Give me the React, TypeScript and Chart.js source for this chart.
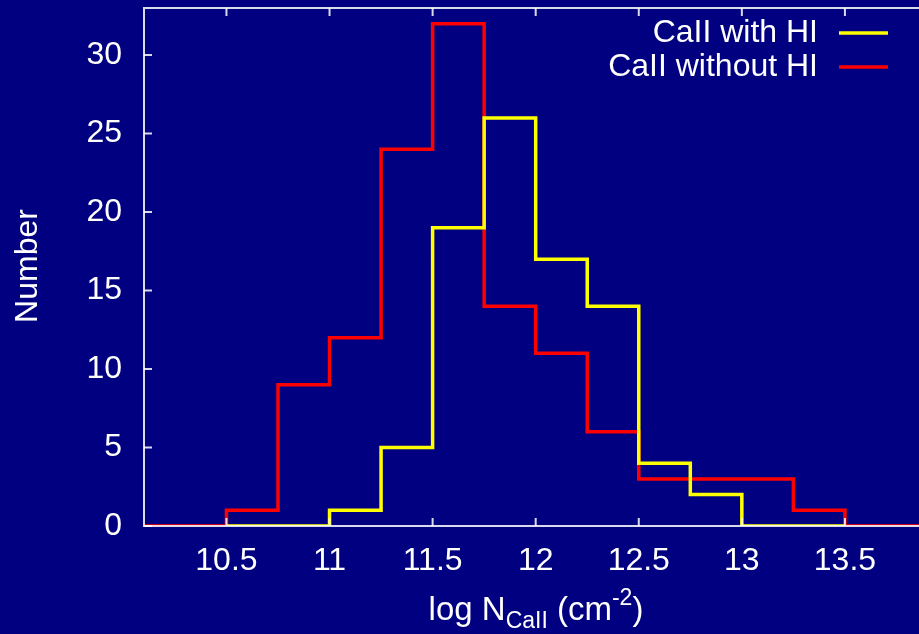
import React, { useEffect, useRef } from "react";
import { Chart, registerables } from "chart.js";

Chart.register(...registerables);

// ---- data ----
const binEdges = [10.5, 10.75, 11, 11.25, 11.5, 11.75, 12, 12.25, 12.5, 12.75, 13, 13.25, 13.5];
const countsWithHI = [0, 0, 1, 5, 19, 26, 17, 14, 4, 2, 0, 0];
const countsWithoutHI = [1, 9, 12, 24, 32, 14, 11, 6, 3, 3, 3, 1];
const xTickValues = [10.5, 11, 11.5, 12, 12.5, 13, 13.5];
const yTickValues = [0, 5, 10, 15, 20, 25, 30];
const seriesLabels = ["CaII with HI", "CaII without HI"];
const seriesColors = ["#ffff00", "#ff0000"];

const X_MIN = 10.1;
const X_MAX = 14;
const Y_MIN = 0;
const Y_MAX = 33;

const BG = "#000080";
const FONT = "'Liberation Sans', Arial, sans-serif";
const FS = 32;

function stepPoints(counts: number[], extendMin?: number, extendMax?: number) {
  const pts: { x: number; y: number }[] = [];
  if (extendMin !== undefined) pts.push({ x: extendMin, y: 0 });
  counts.forEach((c, i) => pts.push({ x: binEdges[i], y: c }));
  pts.push({ x: binEdges[binEdges.length - 1], y: 0 });
  if (extendMax !== undefined) pts.push({ x: extendMax, y: 0 });
  return pts;
}

const framePlugin = {
  id: "frame",
  beforeDraw(chart: any) {
    const ctx = chart.ctx;
    ctx.save();
    ctx.fillStyle = BG;
    ctx.fillRect(0, 0, chart.width, chart.height);
    ctx.restore();
  },
  afterDatasetsDraw(chart: any) {
    const ctx = chart.ctx;
    const { left, right, top, bottom } = chart.chartArea;
    const xs = chart.scales.x;
    const ys = chart.scales.y;
    ctx.save();
    ctx.strokeStyle = "rgba(255,255,255,0.85)";
    ctx.lineWidth = 2;
    ctx.beginPath();
    ctx.moveTo(left, top);
    ctx.lineTo(right, top);
    ctx.lineTo(right, bottom);
    ctx.lineTo(left, bottom);
    ctx.closePath();
    ctx.stroke();
    const tl = 8;
    ctx.beginPath();
    xTickValues.forEach((v) => {
      const px = xs.getPixelForValue(v);
      ctx.moveTo(px, bottom);
      ctx.lineTo(px, bottom - tl);
      ctx.moveTo(px, top);
      ctx.lineTo(px, top + tl);
    });
    yTickValues.forEach((v) => {
      const py = ys.getPixelForValue(v);
      ctx.moveTo(left, py);
      ctx.lineTo(left + tl, py);
      ctx.moveTo(right, py);
      ctx.lineTo(right - tl, py);
    });
    ctx.stroke();

    // legend
    ctx.fillStyle = "#ffffff";
    ctx.font = `${FS}px ${FONT}`;
    ctx.textAlign = "right";
    ctx.textBaseline = "middle";
    const legX = 818;
    const legY = [33, 67];
    seriesLabels.forEach((lab, i) => {
      ctx.fillStyle = "#ffffff";
      ctx.fillText(lab, legX, legY[i]);
      ctx.strokeStyle = seriesColors[i];
      ctx.lineWidth = 3.5;
      ctx.beginPath();
      ctx.moveTo(839, legY[i]);
      ctx.lineTo(888, legY[i]);
      ctx.stroke();
    });

    // y title
    ctx.save();
    ctx.translate(28, 266);
    ctx.rotate(-Math.PI / 2);
    ctx.textAlign = "center";
    ctx.textBaseline = "middle";
    ctx.fillStyle = "#ffffff";
    ctx.font = `${FS}px ${FONT}`;
    ctx.fillText("Number", 0, 0);
    ctx.restore();

    // x title with sub/superscripts
    const parts = [
      { t: "log N", size: 33, dy: 0 },
      { t: "CaII", size: 23, dy: 8 },
      { t: " (cm", size: 33, dy: 0 },
      { t: "-2", size: 23, dy: -15 },
      { t: ")", size: 33, dy: 0 },
    ];
    let total = 0;
    const widths = parts.map((p) => {
      ctx.font = `${p.size}px ${FONT}`;
      const w = ctx.measureText(p.t).width;
      total += w;
      return w;
    });
    let x = 536 - total / 2;
    const base = 620;
    ctx.textAlign = "left";
    ctx.textBaseline = "alphabetic";
    ctx.fillStyle = "#ffffff";
    parts.forEach((p, i) => {
      ctx.font = `${p.size}px ${FONT}`;
      ctx.fillText(p.t, x, base + p.dy);
      x += widths[i];
    });
    ctx.restore();
  },
};

export default function App() {
  const ref = useRef<HTMLCanvasElement | null>(null);
  useEffect(() => {
    if (!ref.current) return;
    const chart = new Chart(ref.current, {
      type: "line",
      data: {
        datasets: [
          {
            label: seriesLabels[0],
            data: stepPoints(countsWithHI),
            borderColor: seriesColors[0],
            borderWidth: 3.5,
            pointRadius: 0,
            stepped: "before",
            fill: false,
          },
          {
            label: seriesLabels[1],
            data: stepPoints(countsWithoutHI, X_MIN, X_MAX),
            borderColor: seriesColors[1],
            borderWidth: 3.5,
            pointRadius: 0,
            stepped: "before",
            fill: false,
          },
        ],
      },
      options: {
        animation: false,
        responsive: false,
        devicePixelRatio: 1,
        layout: { padding: { top: 8, left: 0, right: 0, bottom: 0 } },
        plugins: { legend: { display: false }, tooltip: { enabled: false } },
        scales: {
          x: {
            type: "linear",
            min: X_MIN,
            max: X_MAX,
            grid: { display: false, drawTicks: false },
            border: { display: false },
            afterBuildTicks: (s: any) => {
              s.ticks = xTickValues.map((v) => ({ value: v }));
            },
            afterFit: (s: any) => {
              s.height = 108;
              s.paddingLeft = 0;
              s.paddingRight = 0;
            },
            ticks: {
              color: "#ffffff",
              font: { family: FONT, size: FS },
              padding: 16,
              autoSkip: false,
              maxRotation: 0,
              callback: (v: any) => String(v),
            },
          },
          y: {
            type: "linear",
            min: Y_MIN,
            max: Y_MAX,
            grid: { display: false, drawTicks: false },
            border: { display: false },
            afterBuildTicks: (s: any) => {
              s.ticks = yTickValues.map((v) => ({ value: v }));
            },
            afterFit: (s: any) => {
              s.width = 144;
              s.paddingTop = 0;
              s.paddingBottom = 0;
            },
            ticks: {
              color: "#ffffff",
              font: { family: FONT, size: FS },
              padding: 22,
              callback: (v: any) => String(v),
            },
          },
        },
      },
      plugins: [framePlugin],
    });
    return () => chart.destroy();
  }, []);
  return (
    <div
      style={{
        position: "absolute",
        left: 0,
        top: 0,
        width: 919,
        height: 634,
        overflow: "hidden",
        background: BG,
      }}
    >
      <canvas ref={ref} width={948} height={634} style={{ display: "block" }} />
    </div>
  );
}
